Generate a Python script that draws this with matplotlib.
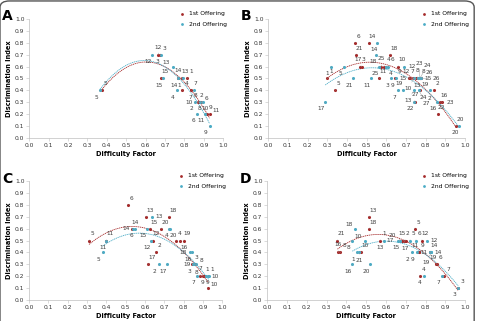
import numpy as np
import matplotlib.pyplot as plt
from matplotlib.patches import FancyBboxPatch
from matplotlib.transforms import Bbox
from matplotlib.text import Text

# item numbers and (difficulty, discrimination) for each offering
a_ids = list(range(1, 16))
a_red_x = [0.815, 0.87, 0.675, 0.79, 0.375, 0.88, 0.835, 0.875, 0.915, 0.885, 0.93, 0.665, 0.785, 0.765, 0.68]
a_red_y = [0.5, 0.3, 0.7, 0.4, 0.4, 0.3, 0.4, 0.3, 0.2, 0.3, 0.2, 0.7, 0.5, 0.5, 0.5]
a_cyan_x = [0.795, 0.855, 0.68, 0.76, 0.365, 0.865, 0.85, 0.895, 0.93, 0.88, 0.905, 0.635, 0.74, 0.765, 0.69]
a_cyan_y = [0.5, 0.3, 0.7, 0.4, 0.4, 0.2, 0.4, 0.3, 0.1, 0.3, 0.2, 0.7, 0.6, 0.5, 0.5]

b_ids = list(range(1, 28))
b_red_x = [0.30, 0.84, 0.465, 0.59, 0.34, 0.44, 0.715, 0.77, 0.645, 0.66, 0.565, 0.72, 0.735, 0.51,
           0.775, 0.875, 0.475, 0.62, 0.75, 0.955, 0.445, 0.86, 0.885, 0.77, 0.575, 0.77, 0.745]
b_red_y = [0.5, 0.4, 0.6, 0.6, 0.4, 0.8, 0.5, 0.5, 0.5, 0.6, 0.5, 0.5, 0.5, 0.8,
           0.5, 0.3, 0.6, 0.7, 0.5, 0.1, 0.7, 0.2, 0.3, 0.4, 0.6, 0.5, 0.3]
b_cyan_x = [0.32, 0.82, 0.625, 0.60, 0.385, 0.61, 0.66, 0.76, 0.65, 0.74, 0.52, 0.69, 0.74, 0.555,
            0.765, 0.855, 0.29, 0.55, 0.685, 0.97, 0.43, 0.74, 0.77, 0.77, 0.565, 0.775, 0.765]
b_cyan_y = [0.6, 0.4, 0.5, 0.6, 0.6, 0.6, 0.4, 0.5, 0.5, 0.5, 0.5, 0.6, 0.4, 0.8,
            0.5, 0.3, 0.3, 0.7, 0.4, 0.1, 0.5, 0.3, 0.5, 0.5, 0.6, 0.5, 0.4]

c_ids = list(range(1, 21))
c_red_x = [0.90, 0.655, 0.845, 0.76, 0.31, 0.51, 0.885, 0.86, 0.905, 0.925,
           0.40, 0.64, 0.605, 0.53, 0.625, 0.78, 0.615, 0.725, 0.80, 0.685]
c_red_y = [0.2, 0.4, 0.3, 0.5, 0.5, 0.8, 0.2, 0.3, 0.2, 0.1,
           0.5, 0.5, 0.7, 0.6, 0.6, 0.5, 0.3, 0.7, 0.5, 0.6]
c_cyan_x = [0.93, 0.67, 0.85, 0.73, 0.38, 0.55, 0.87, 0.865, 0.915, 0.925,
            0.40, 0.63, 0.635, 0.54, 0.61, 0.845, 0.715, 0.835, 0.855, 0.725]
c_cyan_y = [0.2, 0.3, 0.3, 0.6, 0.4, 0.6, 0.2, 0.3, 0.2, 0.2,
            0.5, 0.5, 0.7, 0.6, 0.6, 0.4, 0.3, 0.4, 0.3, 0.6]

d_ids = list(range(1, 22))
d_red_x = [0.57, 0.69, 0.965, 0.77, 0.745, 0.855, 0.895, 0.37, 0.765, 0.475, 0.765,
           0.78, 0.515, 0.825, 0.70, 0.36, 0.695, 0.515, 0.86, 0.68, 0.355]
d_red_y = [0.5, 0.5, 0.1, 0.2, 0.6, 0.3, 0.2, 0.4, 0.4, 0.4, 0.4,
           0.5, 0.7, 0.4, 0.5, 0.4, 0.5, 0.6, 0.3, 0.5, 0.5]
d_cyan_x = [0.455, 0.73, 0.965, 0.79, 0.72, 0.75, 0.885, 0.43, 0.755, 0.495, 0.83,
            0.805, 0.59, 0.825, 0.67, 0.43, 0.66, 0.445, 0.83, 0.52, 0.465]
d_cyan_y = [0.4, 0.4, 0.1, 0.2, 0.5, 0.5, 0.2, 0.5, 0.4, 0.5, 0.4,
            0.5, 0.5, 0.4, 0.5, 0.3, 0.5, 0.6, 0.4, 0.3, 0.4]

RED = '#a52a2a'
CYAN = '#4bacc6'
GRID = '#bfbfbf'

fig = plt.figure(figsize=(4.78, 3.21), dpi=100)
fig.patches.append(FancyBboxPatch((0.0, -0.02), 0.992, 1.017, boxstyle='round,pad=0,rounding_size=0.02',
                                  transform=fig.transFigure, fill=False, ec='#555555', lw=1.0))
renderer = fig.canvas.get_renderer()

boxes = [(0.061, 0.570, 0.406, 0.371), (0.561, 0.570, 0.412, 0.371),
         (0.061, 0.065, 0.404, 0.371), (0.559, 0.065, 0.414, 0.371)]
panels = [('A', a_ids, a_red_x, a_red_y, a_cyan_x, a_cyan_y),
          ('B', b_ids, b_red_x, b_red_y, b_cyan_x, b_cyan_y),
          ('C', c_ids, c_red_x, c_red_y, c_cyan_x, c_cyan_y),
          ('D', d_ids, d_red_x, d_red_y, d_cyan_x, d_cyan_y)]

red_angles = [60, 90, 30, 120, 0, 150, -30, -60, 180, -90, -120, -150]
cyan_angles = [-120, 150, -90, 180, 120, -150, -60, 90, 210, -30, 60, 0]


def text_box(ann):
    ann.update_positions(renderer)
    return Text.get_window_extent(ann, renderer)


def place_labels(ax, items, obstacles):
    placed = list(obstacles)
    for n, x, y, angles in items:
        ann = ax.annotate(str(n), (x, y), xytext=(0, 0), textcoords='offset points',
                          fontsize=4.2, color='#404040', ha='center', va='center',
                          arrowprops=dict(arrowstyle='-', color='#909090', lw=0.3,
                                          shrinkA=0.5, shrinkB=1.2))
        best = None
        for r in [5.5, 8, 11, 14, 17, 21]:
            for a in angles:
                off = (r * np.cos(np.radians(a)), r * np.sin(np.radians(a)))
                ann.xyann = off
                bb = text_box(ann)
                if not any(bb.overlaps(o) for o in placed):
                    best = off
                    break
            if best is not None:
                break
        if best is None:
            best = (8 * np.cos(np.radians(angles[0])), 8 * np.sin(np.radians(angles[0])))
        ann.xyann = best
        placed.append(text_box(ann))


for box, (letter, ids, rx, ry, cx, cy) in zip(boxes, panels):
    ax = fig.add_axes(box)
    ax.scatter(rx, ry, s=5, color=RED, zorder=3, label='1st Offering', linewidths=0)
    ax.scatter(cx, cy, s=5, color=CYAN, zorder=3, label='2nd Offering', linewidths=0)
    # second order trend lines
    for xs, ys, col in [(rx, ry, RED), (cx, cy, CYAN)]:
        p = np.polyfit(xs, ys, 2)
        t = np.linspace(min(xs), max(xs), 100)
        ax.plot(t, np.polyval(p, t), color=col, lw=0.6, ls=(0, (1.5, 0.8)), zorder=2)
    ax.set_xlim(0, 1.0)
    ax.set_ylim(0, 1.0)
    ticks = np.arange(0, 1.01, 0.1)
    ax.set_xticks(ticks)
    ax.set_yticks(ticks)
    ax.set_xticklabels([f'{v:.1f}' for v in ticks])
    ax.set_yticklabels([f'{v:.1f}' for v in ticks])
    ax.tick_params(labelsize=4.3, length=2, width=0.4, color=GRID, pad=1.5, labelcolor='#333333')
    for s in ['top', 'right']:
        ax.spines[s].set_visible(False)
    for s in ['left', 'bottom']:
        ax.spines[s].set_color(GRID)
        ax.spines[s].set_linewidth(0.5)
    ax.set_xlabel('Difficulty Factor', fontsize=4.8, fontweight='bold', labelpad=2)
    ax.set_ylabel('Discrimination Index', fontsize=4.8, fontweight='bold', labelpad=2)
    leg = ax.legend(loc='upper right', bbox_to_anchor=(1.04, 1.1), fontsize=4.3, frameon=False,
                    handletextpad=0.1, markerscale=0.9, borderpad=0.2, labelspacing=0.9)
    ax.text(-0.14, 1.08, letter, transform=ax.transAxes, fontsize=10, fontweight='bold',
            ha='left', va='top')

    # point markers and legend are obstacles for the labels
    obst = [leg.get_window_extent(renderer)]
    for px, py in zip(list(rx) + list(cx), list(ry) + list(cy)):
        dx, dy = ax.transData.transform((px, py))
        obst.append(Bbox.from_extents(dx - 1.5, dy - 1.5, dx + 1.5, dy + 1.5))
    items = [(n, rx[i], ry[i], red_angles) for i, n in enumerate(ids)]
    items += [(n, cx[i], cy[i], cyan_angles) for i, n in enumerate(ids)]
    place_labels(ax, items, obst)

fig.savefig('out.png', dpi=100)
